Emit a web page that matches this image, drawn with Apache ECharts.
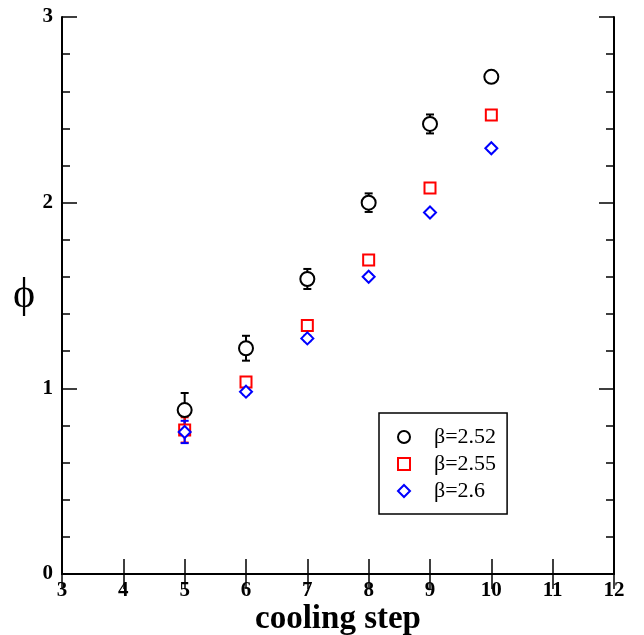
<!DOCTYPE html>
<html>
<head>
<meta charset="utf-8">
<script src="https://cdn.jsdelivr.net/npm/echarts@6/dist/echarts.min.js"></script>
<style>
html,body{margin:0;padding:0;background:#fff;overflow:hidden;}
#chart{width:644px;height:635px;}
</style>
</head>
<body>
<div id="chart"></div>
<script>
const steps = [5, 6, 7, 8, 9, 10];
const phi252 = [0.883, 1.216, 1.589, 2.0, 2.424, 2.678];
const err252 = [0.092, 0.067, 0.054, 0.05, 0.051, 0.012];
const phi255 = [0.776, 1.034, 1.338, 1.691, 2.079, 2.472];
const err255 = [0.068, 0.02, 0.02, 0.02, 0.015, 0.015];
const phi260 = [0.765, 0.982, 1.269, 1.601, 1.947, 2.293];
const err260 = [0.06, 0.015, 0.015, 0.012, 0.012, 0.012];
const seriesNames = ['β=2.52', 'β=2.55', 'β=2.6'];
const xTitle = 'cooling step';
const yTitle = 'ϕ';

const SERIF = '"Liberation Serif", "DejaVu Serif", serif';

function errRender(color) {
  return function (params, api) {
    const x = api.value(0), y = api.value(1), e = api.value(2);
    const top = api.coord([x, y + e]);
    const bot = api.coord([x, y - e]);
    const w = 4;
    const st = { stroke: color, lineWidth: 2 };
    return {
      type: 'group',
      children: [
        { type: 'line', shape: { x1: top[0], y1: top[1], x2: bot[0], y2: bot[1] }, style: st },
        { type: 'line', shape: { x1: top[0] - w, y1: top[1], x2: top[0] + w, y2: top[1] }, style: st },
        { type: 'line', shape: { x1: bot[0] - w, y1: bot[1], x2: bot[0] + w, y2: bot[1] }, style: st }
      ]
    };
  };
}

function pts(vals, errs) { return steps.map((s, i) => [s, vals[i], errs[i]]); }

const colors = ['#000000', '#ff0000', '#0000ff'];
const symbols = ['emptyCircle', 'emptyRect', 'emptyDiamond'];
const sizes = [14, 11, 12];
const vals = [phi252, phi255, phi260];
const errs = [err252, err255, err260];

const series = [];
for (let k = 0; k < 3; k++) {
  series.push({
    type: 'custom',
    name: seriesNames[k] + '_err',
    renderItem: errRender(colors[k]),
    data: pts(vals[k], errs[k]),
    encode: { x: 0, y: 1 },
    z: 2,
    silent: true
  });
}
for (let k = 0; k < 3; k++) {
  series.push({
    type: 'scatter',
    name: seriesNames[k],
    symbol: symbols[k],
    symbolSize: sizes[k],
    data: pts(vals[k], errs[k]).map(p => [p[0], p[1]]),
    itemStyle: { color: colors[k], borderColor: colors[k], borderWidth: 2.5, opacity: 1 },
    z: 3
  });
}

const axisLineStyle = { show: true, lineStyle: { color: '#000', width: 2 } };
const chart = echarts.init(document.getElementById('chart'), null, { width: 644, height: 635 });
chart.setOption({
  animation: false,
  backgroundColor: '#fff',
  grid: { left: 62, right: 30, top: 17, bottom: 61, containLabel: false, outerBoundsMode: 'none' },
  xAxis: [
    {
      type: 'value', min: 3, max: 12, interval: 1, position: 'bottom',
      axisLine: axisLineStyle,
      axisTick: { show: true, inside: true, length: 15, lineStyle: { color: '#000', width: 1.5 } },
      splitLine: { show: false },
      axisLabel: { color: '#000', fontFamily: SERIF, fontWeight: 'bold', fontSize: 21, margin: 6 },
      name: xTitle, nameLocation: 'middle', nameGap: 29, nameMoveOverlap: false,
      nameTextStyle: { color: '#000', fontFamily: SERIF, fontWeight: 'bold', fontSize: 33, verticalAlign: 'top' }
    },
    {
      type: 'value', min: 3, max: 12, interval: 1, position: 'top',
      axisLine: axisLineStyle,
      axisTick: { show: true, inside: true, length: 15, lineStyle: { color: '#000', width: 1.5 } },
      splitLine: { show: false },
      axisLabel: { show: false }
    }
  ],
  yAxis: [
    {
      type: 'value', min: 0, max: 3, interval: 1, position: 'left',
      axisLine: axisLineStyle,
      axisTick: { show: true, inside: true, length: 15, lineStyle: { color: '#000', width: 1.5 } },
      minorTick: { show: true, splitNumber: 5, length: 8, lineStyle: { color: '#000', width: 1.5 } },
      splitLine: { show: false },
      minorSplitLine: { show: false },
      axisLabel: { color: '#000', fontFamily: SERIF, fontWeight: 'bold', fontSize: 21, margin: 9 },
      name: yTitle, nameLocation: 'middle', nameRotate: 0, nameGap: 27, nameMoveOverlap: false,
      nameTextStyle: { color: '#000', fontFamily: SERIF, fontSize: 42, align: 'right', verticalAlign: 'middle' }
    },
    {
      type: 'value', min: 0, max: 3, interval: 1, position: 'right',
      axisLine: axisLineStyle,
      axisTick: { show: true, inside: true, length: 15, lineStyle: { color: '#000', width: 1.5 } },
      minorTick: { show: true, splitNumber: 5, length: 8, lineStyle: { color: '#000', width: 1.5 } },
      splitLine: { show: false },
      minorSplitLine: { show: false },
      axisLabel: { show: false }
    }
  ],
  legend: {
    orient: 'vertical',
    left: 379, top: 413,
    backgroundColor: '#fff',
    borderColor: '#000', borderWidth: 1.5, borderRadius: 0,
    padding: [13, 11, 12, 18],
    itemGap: 5,
    itemWidth: 12, itemHeight: 12,
    selectedMode: false,
    textStyle: { color: '#000', fontFamily: SERIF, fontSize: 22, lineHeight: 22, padding: [0, 0, 0, 19] },
    data: seriesNames.map((n, k) => ({
      name: n, icon: symbols[k].replace('empty', '').toLowerCase(),
      itemStyle: { color: 'transparent', borderColor: colors[k], borderWidth: 2 }
    }))
  },
  series: series
});
</script>
</body>
</html>
